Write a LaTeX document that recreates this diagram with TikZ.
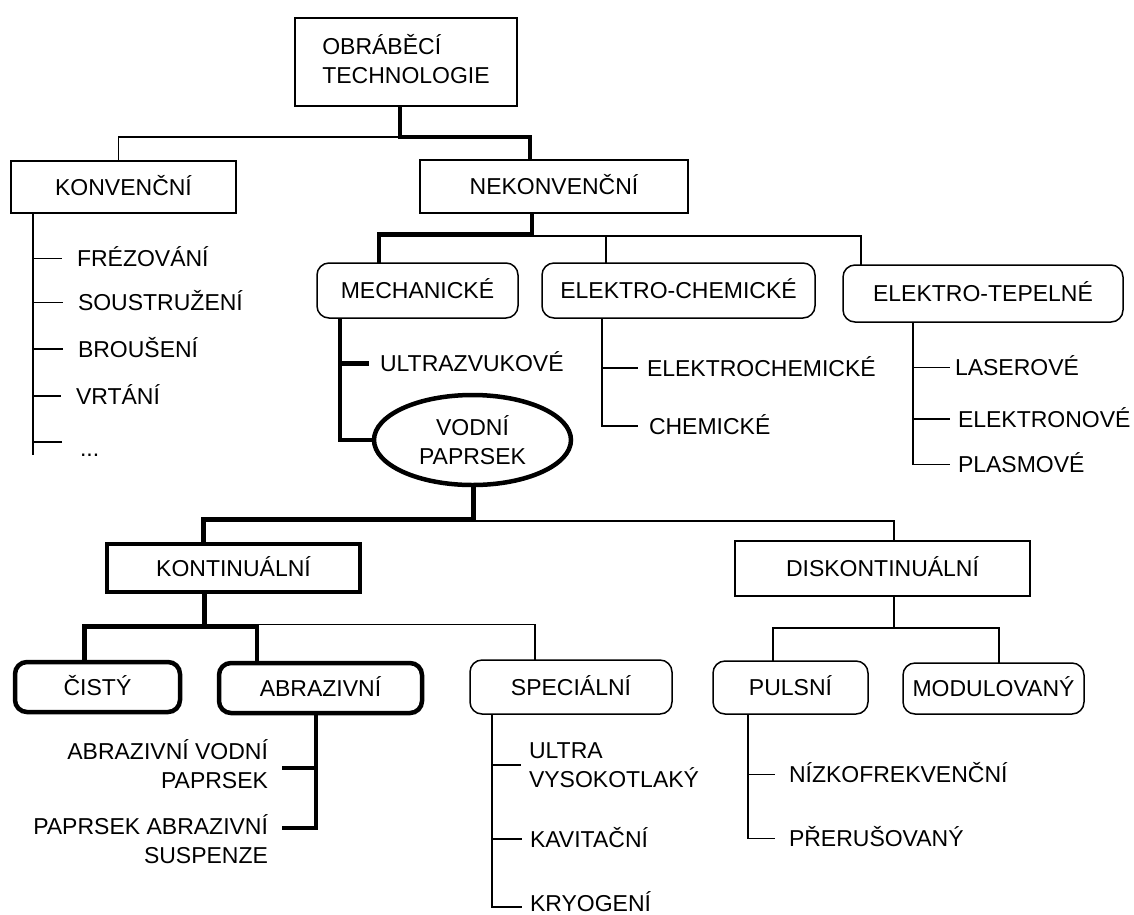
\documentclass[tikz,border=0pt]{standalone}
\usepackage{fontspec}
\setmainfont{Liberation Sans}
\usetikzlibrary{shapes.geometric}
\newcommand\dropdp[1]{\rule[-#1]{0pt}{#1}}
\tikzset{
  thinl/.style={line width=1.5pt},
  thickl/.style={line width=4.5pt},
  lbl/.style={font=\fontsize{23}{28.5}\selectfont, inner sep=0pt, outer sep=0pt},
  onel/.style={lbl, text height=16.5pt, text depth=0pt},
  sqbox/.style={onel, draw, thinl, rectangle},
  rbox/.style={sqbox, rounded corners=12pt},
  item/.style={onel, anchor=west},
}
\begin{document}
\begin{tikzpicture}[x=1pt,y=-1pt]
\fill[white] (0,0) rectangle (1134,914);
\useasboundingbox (0,0) rectangle (1134,914);

% ---- boxes ----
\node[draw, thinl, lbl, align=left, minimum width=222pt, minimum height=88pt] (top) at (406,62) {OBRÁBĚCÍ\\TECHNOLOGIE\dropdp{6pt}};
\node[sqbox, minimum width=225pt, minimum height=52pt] (konv) at (123.5,187) {KONVENČNÍ};
\node[sqbox, minimum width=268pt, minimum height=53pt] (nekonv) at (554,186.5) {NEKONVENČNÍ};
\node[rbox, minimum width=201pt, minimum height=55pt] (mech) at (417.5,290.5) {MECHANICKÉ};
\node[rbox, minimum width=273pt, minimum height=55pt] (elchem) at (678.5,290.5) {ELEKTRO-CHEMICKÉ};
\node[rbox, minimum width=280pt, minimum height=57pt] (eltep) at (983,293.5) {ELEKTRO-TEPELNÉ};
\node[draw, thickl, lbl, ellipse, align=center, minimum width=197pt, minimum height=90pt] (vodni) at (472.5,440) {VODNÍ\\PAPRSEK};
\node[sqbox, thickl, minimum width=253pt, minimum height=48pt] (kont) at (233.5,568) {KONTINUÁLNÍ};
\node[sqbox, minimum width=295pt, minimum height=55pt] (diskont) at (882.5,568.5) {DISKONTINUÁLNÍ};
\node[rbox, thickl, minimum width=165pt, minimum height=50pt] (cisty) at (97.5,687) {ČISTÝ};
\node[rbox, thickl, minimum width=203pt, minimum height=50pt] (abr) at (320.5,688) {ABRAZIVNÍ};
\node[rbox, minimum width=202pt, minimum height=54pt] (spec) at (571,687) {SPECIÁLNÍ};
\node[rbox, minimum width=155pt, minimum height=53pt] (pulsni) at (790.5,687.5) {PULSNÍ};
\node[rbox, minimum width=181pt, minimum height=51pt] (modul) at (993.5,688.5) {MODULOVANÝ};

% ---- list texts ----
\node[item] (frez) at (77,258.5) {FRÉZOVÁNÍ};
\node[item] (sous) at (78,302.5) {SOUSTRUŽENÍ};
\node[item] (brou) at (78,349) {BROUŠENÍ};
\node[item] (vrt) at (76,396) {VRTÁNÍ};
\node[item] (dots) at (80,447.75) {...};
\node[item] (ultra) at (380,363.5) {ULTRAZVUKOVÉ};
\node[item] (elch1) at (647,368) {ELEKTROCHEMICKÉ};
\node[item] (chem) at (649,426) {CHEMICKÉ};
\node[item] (laser) at (955,367.5) {LASEROVÉ};
\node[item] (elektron) at (958,419) {ELEKTRONOVÉ};
\node[item] (plasm) at (958,464.5) {PLASMOVÉ};
\node[lbl, align=right, anchor=east] (awj) at (268,764) {ABRAZIVNÍ VODNÍ\\PAPRSEK};
\node[lbl, align=right, anchor=east] (asj) at (268,839) {PAPRSEK ABRAZIVNÍ\\SUSPENZE};
\node[lbl, align=left, anchor=west] (uvs) at (529,765) {ULTRA\\VYSOKOTLAKÝ};
\node[item] (kav) at (530,839) {KAVITAČNÍ};
\node[item] (kryo) at (530,903) {KRYOGENÍ};
\node[item] (nizko) at (789,774.5) {NÍZKOFREKVENČNÍ};
\node[item] (preru) at (789,838.5) {PŘERUŠOVANÝ};

% ---- connectors ----
% top level
\coordinate (tb) at ([xshift=-6pt,yshift=-31pt]top.south);
\draw[thickl] ([xshift=-6pt]top.south) -- (tb) -| ([xshift=-24pt]nekonv.north);
\draw[thinl] (tb) -| ([xshift=-5pt]konv.north);

% konvencni list
\coordinate (konvT) at ([xshift=-90.5pt]konv.south);
\draw[thinl] (konvT) -- ++(0,242);
\foreach \n in {frez,sous,brou,vrt}
  \draw[thinl] (konvT |- \n.west) -- ([xshift=-15pt]\n.west);
\draw[thinl] ([xshift=-18pt,yshift=6pt]dots.west) -- ++(-29,0);

% nekonvencni
\draw[thickl] ([xshift=-22pt]nekonv.south) -- ++(0,21.5) -| ([xshift=-38.5pt]mech.north);
\draw[thinl] ([xshift=-22pt,yshift=-23pt]nekonv.south) -| ([xshift=-122pt]eltep.north);
\draw[thinl] ([xshift=-72.5pt]elchem.north) -- ++(0,-27);

% mechanicke
\coordinate (mechT) at ([xshift=-77.5pt]mech.south);
\draw[thickl] (mechT) |- (vodni.west);
\draw[thickl] (mechT |- ultra.west) -- ([xshift=-11pt]ultra.west);

% elektro-chemicke
\coordinate (elchT) at ([xshift=-76.5pt]elchem.south);
\draw[thinl] (elchT) |- ([xshift=-11pt]chem.west);
\draw[thinl] (elchT |- elch1.west) -- ([xshift=-9pt]elch1.west);

% elektro-tepelne
\coordinate (eltT) at ([xshift=-70pt]eltep.south);
\draw[thinl] (eltT) |- ([xshift=-8pt]plasm.west);
\draw[thinl] (eltT |- laser.west) -- ([xshift=-5pt]laser.west);
\draw[thinl] (eltT |- elektron.west) -- ([xshift=-8pt]elektron.west);

% vodni paprsek
\draw[thickl] ([xshift=1pt]vodni.south) -- ++(0,34.5) -| ([xshift=-30pt]kont.north);
\draw[thinl] ([xshift=1pt,yshift=-36pt]vodni.south) -| ([xshift=11.5pt]diskont.north);

% kontinualni
\coordinate (kb) at ([xshift=-29pt,yshift=-34.5pt]kont.south);
\draw[thickl] ([xshift=-29pt]kont.south) -- (kb);
\draw[thickl] ([xshift=-13pt]cisty.north) |- (kb) -| ([xshift=-63.5pt]abr.north);
\draw[thinl] (kb) ++(52.5,-2) -| ([xshift=-36pt]spec.north);

% abrazivni
\coordinate (abrT) at ([xshift=-4.5pt]abr.south);
\draw[thickl] (abrT) |- ([xshift=14pt,yshift=11pt]asj.east);
\draw[thickl] ([xshift=14pt,yshift=-4pt]awj.east) -- ++(34,0);

% specialni
\coordinate (specT) at ([xshift=-79pt]spec.south);
\draw[thinl] (specT) |- ([xshift=-8pt,yshift=-4pt]kryo.west);
\draw[thinl] (specT |- uvs.west) -- ([xshift=-8pt]uvs.west);
\draw[thinl] (specT |- kav.west) -- ([xshift=-8pt]kav.west);

% diskontinualni
\coordinate (db) at ([xshift=11.5pt,yshift=-32pt]diskont.south);
\draw[thinl] ([xshift=11.5pt]diskont.south) -- (db);
\draw[thinl] ([xshift=-17.5pt]pulsni.north) |- (db) -| ([xshift=5.5pt]modul.north);

% pulsni
\coordinate (pulT) at ([xshift=-42.5pt]pulsni.south);
\draw[thinl] (pulT) |- ([xshift=-14pt]preru.west);
\draw[thinl] (pulT |- nizko.west) -- ([xshift=-14pt]nizko.west);
\end{tikzpicture}
\end{document}
